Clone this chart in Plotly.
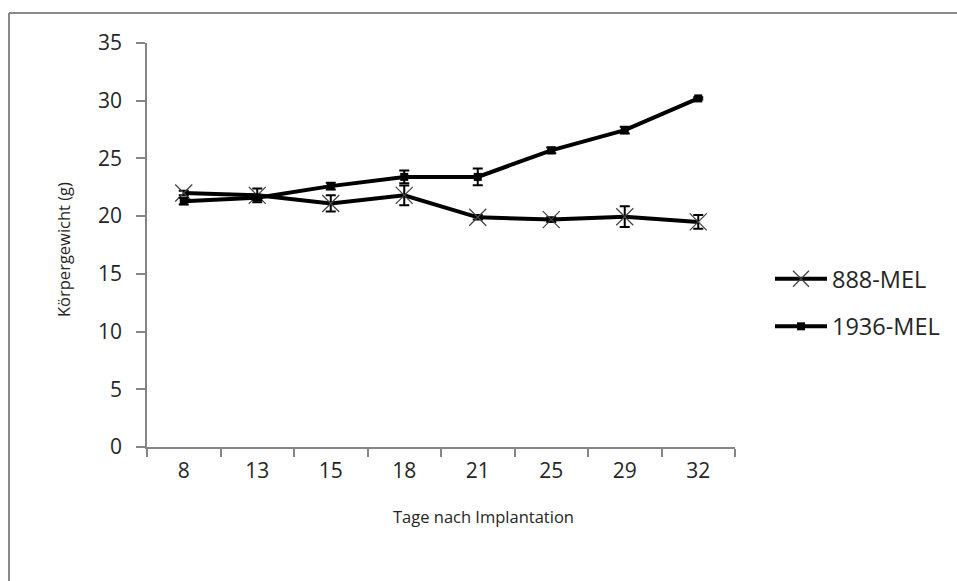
import plotly.graph_objects as go

# Tage nach Implantation (Kategorien)
days = ["8", "13", "15", "18", "21", "25", "29", "32"]

# Körpergewicht (g), Mittelwerte und Fehlerbalken
mel888 = [22.0, 21.8, 21.1, 21.8, 19.9, 19.7, 19.95, 19.5]
mel888_err = [0.2, 0.6, 0.7, 0.85, 0.2, 0.2, 0.9, 0.6]
mel1936 = [21.3, 21.6, 22.6, 23.4, 23.4, 25.7, 27.45, 30.2]
mel1936_err = [0.3, 0.2, 0.3, 0.55, 0.72, 0.25, 0.3, 0.1]

W, H = 957, 581
L, R, T, B = 147, 222, 43, 134
pw, ph = W - L - R, H - T - B

font_family = "Open Sans, Liberation Sans, sans-serif"
axis_gray = "#868686"
text_color = "#262626"

fig = go.Figure()

fig.add_trace(go.Scatter(
    x=days, y=mel888, name="888-MEL", mode="lines+markers",
    line=dict(color="black", width=4),
    marker=dict(symbol="x-thin", size=17, color="#444",
                line=dict(color="#444", width=1.3)),
    error_y=dict(type="data", array=mel888_err, color="black",
                 thickness=2, width=5),
    legendgroup="a",
))
fig.add_trace(go.Scatter(
    x=days, y=mel1936, name="1936-MEL", mode="lines+markers",
    line=dict(color="black", width=4),
    marker=dict(symbol="square", size=8, color="black"),
    error_y=dict(type="data", array=mel1936_err, color="black",
                 thickness=2, width=5),
    legendgroup="b",
))

def px_x(p):
    return (p - L) / pw

def px_y(p):
    return (H - B - p) / ph

# outer chart frame (left and top edges)
fig.add_shape(type="line", xref="paper", yref="paper",
              x0=px_x(9), x1=px_x(9), y0=px_y(13), y1=px_y(700),
              line=dict(color="#8a8a8a", width=2))
fig.add_shape(type="line", xref="paper", yref="paper",
              x0=px_x(9), x1=px_x(1200), y0=px_y(13), y1=px_y(13),
              line=dict(color="#8a8a8a", width=2))

# axis titles
fig.add_annotation(text="Tage nach Implantation", xref="paper", yref="paper",
                   x=px_x(483), y=px_y(516), xanchor="center", yanchor="middle",
                   showarrow=False, font=dict(size=16.5, color=text_color))
fig.add_annotation(text="Körpergewicht (g)", xref="paper", yref="paper",
                   x=px_x(63), y=px_y(250), xanchor="center", yanchor="middle",
                   textangle=-90, showarrow=False,
                   font=dict(size=16.5, color=text_color))

fig.update_layout(
    width=W, height=H,
    margin=dict(l=L, r=R, t=T, b=B),
    paper_bgcolor="white", plot_bgcolor="white",
    font=dict(family=font_family, color=text_color, size=17),
    showlegend=True,
    legend=dict(x=px_x(770), y=px_y(303), xanchor="left", yanchor="middle",
                font=dict(size=23.5, color=text_color), tracegroupgap=14,
                itemwidth=52, bgcolor="rgba(0,0,0,0)"),
    xaxis=dict(
        type="category", range=[-0.5, 7.5], tickson="boundaries",
        showline=True, linecolor=axis_gray, linewidth=1.5,
        ticks="outside", ticklen=8, tickcolor=axis_gray, tickwidth=1.5,
        showgrid=False, zeroline=False, ticklabelstandoff=4,
        tickfont=dict(size=21, color=text_color),
    ),
    yaxis=dict(
        range=[0, 35], dtick=5, showline=True, linecolor=axis_gray, linewidth=1.5,
        ticks="outside", ticklen=9, tickcolor=axis_gray, tickwidth=1.5,
        showgrid=False, zeroline=False, ticklabelstandoff=10,
        tickfont=dict(size=21, color=text_color),
    ),
)

fig.write_html("out.html")
